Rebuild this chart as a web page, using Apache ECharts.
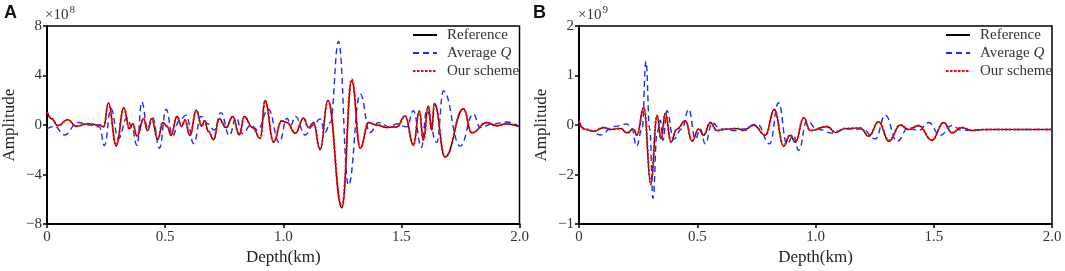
<!doctype html>
<html>
<head>
<meta charset="utf-8">
<title>Amplitude vs depth</title>
<script src="https://cdn.jsdelivr.net/npm/echarts@6/dist/echarts.min.js"></script>
<style>
html, body { margin: 0; padding: 0; background: #fff; }
#main { width: 1065px; height: 271px; }
</style>
</head>
<body>
<div id="main"></div>
<script>

// panel A, amplitude in units of 1e8
var depthRefA = [0, 0.02, 0.046, 0.088, 0.123, 0.173, 0.222, 0.240, 0.260, 0.293, 0.325, 0.349, 0.363, 0.381, 0.409, 0.426, 0.443, 0.469, 0.490, 0.508, 0.525, 0.550, 0.570, 0.584, 0.605, 0.632, 0.655, 0.666, 0.683, 0.705, 0.729, 0.758, 0.786, 0.814, 0.835, 0.870, 0.903, 0.923, 0.959, 0.993,
    1.016, 1.051, 1.086, 1.107, 1.128, 1.156, 1.189, 1.248, 1.290, 1.326, 1.361, 1.396, 1.438, 1.481, 1.516, 1.551, 1.576, 1.593, 1.614, 1.628, 1.640, 1.685, 1.763, 1.798, 1.861, 1.903, 1.945, 2.0];
var ampRefA = [1.1, 0.5, -0.05, 0.45, -0.1, 0.1, 0.0, -0.15, 1.8, -1.7, 1.4, -0.3, 0.1, -0.9, 0.53, -0.45, 0.53, -1.2, 0.2, -0.1, -0.85, 0.7, -0.1, 0.4, -0.85, 1.2, -0.1, 0.35, -0.5, -1.2, 0.5, -0.2, 0.7, -0.8, 0.7, -0.2, -1.1, 2.0, -1.4, 0.35,
    0.2, -0.67, 0.56, -0.2, 0.2, -2.0, 2.0, -6.7, 3.6, -1.9, 0.2, 0.0, -0.2, -0.15, 0.75, -1.65, 1.15, -1.25, 1.55, -0.4, 1.75, -2.6, 1.33, -0.64, 0.2, -0.05, 0.1, -0.13];

var depthAvgA = [0, 0.032, 0.074, 0.13, 0.187, 0.222, 0.243, 0.271, 0.302, 0.339, 0.359, 0.381, 0.401, 0.426, 0.447, 0.476, 0.504, 0.532, 0.560, 0.589, 0.621, 0.652, 0.680, 0.708, 0.736, 0.772, 0.800, 0.828, 0.863, 0.891, 0.937, 0.983,
    1.016, 1.032, 1.051, 1.093, 1.128, 1.156, 1.177, 1.199, 1.234, 1.276, 1.326, 1.367, 1.403, 1.452, 1.481, 1.523, 1.551, 1.585, 1.607, 1.650, 1.678, 1.749, 1.805, 1.833, 1.889, 1.945, 2.0];
var ampAvgA = [-0.3, -0.1, -0.8, 0.2, 0.0, -0.15, -1.65, 1.33, -1.1, 0.6, -0.2, -1.65, 1.87, -0.3, 0.6, -1.87, 1.28, -0.85, 0.35, 0.8, -1.5, 0.7, 0.1, -0.4, 1.0, -0.85, 0.6, -0.7, 0.0, -0.4, 1.28, -1.4,
    0.55, 0.0, 0.7, -0.8, 0.0, 0.5, -0.6, 0.2, 6.75, -4.85, 2.5, -0.6, 0.2, -0.15, 0.1, -0.15, 1.15, -1.8, 1.15, -1.4, 2.75, -1.7, 0.9, -0.2, 0.1, 0.25, -0.1];

var depthOursA = depthRefA;
var ampOursA = [1.05, 0.5, -0.05, 0.42, -0.1, 0.1, 0.0, -0.12, 1.75, -1.6, 1.35, -0.3, 0.1, -0.85, 0.5, -0.42, 0.5, -1.1, 0.2, -0.1, -0.8, 0.68, -0.1, 0.4, -0.8, 1.15, -0.1, 0.33, -0.5, -1.15, 0.5, -0.2, 0.66, -0.75, 0.66, -0.2, -1.05, 1.95, -1.35, 0.33,
    0.2, -0.65, 0.55, -0.2, 0.2, -1.95, 1.95, -6.55, 3.7, -1.85, 0.2, 0.0, -0.18, -0.15, 0.72, -1.6, 1.1, -1.2, 1.5, -0.4, 1.7, -2.55, 1.3, -0.62, 0.2, -0.05, 0.1, -0.13];

// panel B, amplitude in units of 1e9
var depthRefB = [0, 0.020, 0.062, 0.104, 0.133, 0.175, 0.203, 0.231, 0.245, 0.274, 0.304, 0.330, 0.347, 0.365, 0.389, 0.414, 0.450, 0.478, 0.506, 0.527, 0.555, 0.583, 0.626, 0.668, 0.696, 0.738, 0.788, 0.826, 0.865, 0.893, 0.915, 0.950, 0.978,
    1.049, 1.084, 1.126, 1.190, 1.225, 1.267, 1.310, 1.359, 1.394, 1.436, 1.492, 1.542, 1.577, 1.619, 1.662, 1.718, 1.830, 2.0];
var ampRefB = [0.09, -0.08, -0.13, -0.05, -0.09, -0.07, -0.16, -0.08, -0.21, 0.37, -1.21, 0.2, -0.28, 0.24, -0.35, -0.08, 0.09, -0.33, -0.08, -0.21, 0.05, -0.11, -0.08, -0.07, -0.11, 0.0, -0.21, 0.32, -0.43, -0.21, -0.35, 0.15, -0.11,
    -0.03, -0.15, -0.07, -0.06, -0.23, 0.07, -0.33, 0.0, -0.09, -0.01, -0.31, 0.05, -0.16, -0.05, -0.11, -0.09, -0.09, -0.09];

var depthAvgB = [0, 0.048, 0.090, 0.147, 0.203, 0.224, 0.243, 0.267, 0.283, 0.299, 0.313, 0.330, 0.344, 0.355, 0.372, 0.400, 0.435, 0.464, 0.492, 0.513, 0.534, 0.563, 0.598, 0.654, 0.696, 0.753, 0.806, 0.844, 0.879, 0.907, 0.929, 0.964, 1.006,
    1.070, 1.126, 1.197, 1.253, 1.295, 1.345, 1.394, 1.436, 1.478, 1.528, 1.577, 1.619, 1.662, 1.746, 1.859, 2.0];
var ampAvgB = [0.0, -0.11, -0.2, -0.03, 0.02, -0.08, -0.43, -0.08, 1.29, -0.08, -1.48, -0.15, 0.1, -0.31, 0.29, -0.28, -0.08, 0.32, -0.28, -0.08, -0.38, 0.05, -0.08, -0.11, -0.08, 0.02, -0.38, 0.45, -0.38, -0.21, -0.51, 0.09, -0.08,
    -0.16, -0.08, -0.08, -0.28, 0.2, -0.33, -0.05, -0.11, 0.05, -0.21, -0.01, -0.11, -0.1, -0.09, -0.09, -0.09];

var depthOursB = depthRefB;
var ampOursB = [0.08, -0.08, -0.12, -0.05, -0.09, -0.07, -0.15, -0.08, -0.2, 0.35, -1.15, 0.19, -0.27, 0.23, -0.33, -0.08, 0.08, -0.31, -0.08, -0.2, 0.05, -0.11, -0.08, -0.07, -0.11, 0.0, -0.2, 0.3, -0.41, -0.2, -0.33, 0.14, -0.11,
    -0.03, -0.14, -0.07, -0.06, -0.22, 0.06, -0.31, 0.0, -0.09, -0.01, -0.3, 0.05, -0.15, -0.05, -0.11, -0.09, -0.09, -0.09];

var seriesNames = ['Reference', 'Average Q', 'Our scheme'];
var xTickLabels = ['0', '0.5', '1.0', '1.5', '2.0'];
var yTickValuesA = [-8, -4, 0, 4, 8];
var yTickLabelsA = ['\u22128', '\u22124', '0', '4', '8'];
var yTickValuesB = [-2, -1, 0, 1, 2];
var yTickLabelsB = ['\u22121', '\u22122', '0', '1', '2'];

function pairs(xs, ys) {
    return xs.map(function (x, i) { return [x, ys[i]]; });
}

var serif = 'Liberation Serif';
var gridLeft = [46.5, 579];

function xAxis(idx) {
    return {
        type: 'value', gridIndex: idx, min: 0, max: 2, interval: 0.5,
        name: 'Depth(km)', nameLocation: 'middle', nameGap: 21,
        nameTextStyle: { fontFamily: serif, fontSize: 17, color: '#222' },
        axisLine: { onZero: false, lineStyle: { color: '#000', width: 2 } },
        axisTick: { length: 4, lineStyle: { color: '#000', width: 1.5 } },
        axisLabel: {
            fontFamily: serif, fontSize: 15, color: '#333', margin: 5,
            formatter: function (v) { return xTickLabels[Math.round(v / 0.5)]; }
        },
        splitLine: { show: false }
    };
}

function yAxis(idx, lim, step, vals, labels) {
    return {
        type: 'value', gridIndex: idx, min: -lim, max: lim, interval: step,
        name: 'Amplitude', nameLocation: 'middle', nameGap: 29,
        nameTextStyle: { fontFamily: serif, fontSize: 17, color: '#222' },
        axisLine: { onZero: false, lineStyle: { color: '#000', width: 2 } },
        axisTick: { length: 4, lineStyle: { color: '#000', width: 1.5 } },
        axisLabel: {
            fontFamily: serif, fontSize: 15, color: '#333', margin: 5,
            formatter: function (v) { return labels[vals.indexOf(v)]; }
        },
        splitLine: { show: false }
    };
}

function line(name, idx, data, color, width, type) {
    return {
        name: name, type: 'line', xAxisIndex: idx, yAxisIndex: idx,
        data: data, symbol: 'none', smooth: 0.45, smoothMonotone: 'x',
        color: color,
        lineStyle: { color: color, width: width, type: type },
        z: name === 'Our scheme' ? 4 : (name === 'Average Q' ? 3 : 2)
    };
}

function legend(left) {
    return {
        orient: 'vertical', left: left, top: 27, padding: 0, itemGap: 2,
        itemWidth: 24, itemHeight: 12,
        itemStyle: { opacity: 0 },
        data: seriesNames,
        formatter: function (n) { return n === 'Average Q' ? 'Average {i|Q}' : n; },
        textStyle: {
            fontFamily: serif, fontSize: 15, color: '#333', lineHeight: 16, padding: [0, 0, 0, 5],
            rich: { i: { fontFamily: serif, fontSize: 15, fontStyle: 'italic', color: '#333' } }
        }
    };
}

function exponent(left, power) {
    return {
        type: 'text', left: left, top: 5,
        style: {
            text: '\u00d710{s|' + power + '}',
            font: '15px ' + serif, fill: '#333',
            rich: { s: { fontSize: 11, fontFamily: serif, fill: '#333', verticalAlign: 'top', padding: [0, 0, 9, 1] } }
        }
    };
}

var chart = echarts.init(document.getElementById('main'));
chart.setOption({
    animation: false,
    backgroundColor: '#fff',
    grid: [
        { left: gridLeft[0], top: 26, width: 473, height: 200, show: true, borderColor: '#000', borderWidth: 1.5 },
        { left: gridLeft[1], top: 26, width: 473, height: 200, show: true, borderColor: '#000', borderWidth: 1.5 }
    ],
    xAxis: [xAxis(0), xAxis(1)],
    yAxis: [yAxis(0, 8, 4, yTickValuesA, yTickLabelsA), yAxis(1, 2, 1, yTickValuesB, yTickLabelsB)],
    legend: [legend(412), legend(945)],
    graphic: [
        { type: 'text', left: 4, top: 4, style: { text: 'A', font: 'bold 18px Liberation Sans', fill: '#111' } },
        { type: 'text', left: 533, top: 4, style: { text: 'B', font: 'bold 18px Liberation Sans', fill: '#111' } },
        exponent(45, 8),
        exponent(578, 9)
    ],
    series: [
        line(seriesNames[0], 0, pairs(depthRefA, ampRefA), '#000000', 1.2, 'solid'),
        line(seriesNames[1], 0, pairs(depthAvgA, ampAvgA), '#1a2bff', 1.4, [6, 4]),
        line(seriesNames[2], 0, pairs(depthOursA, ampOursA), '#ff0000', 2, [2.5, 1.5]),
        line(seriesNames[0], 1, pairs(depthRefB, ampRefB), '#000000', 1.2, 'solid'),
        line(seriesNames[1], 1, pairs(depthAvgB, ampAvgB), '#1a2bff', 1.4, [6, 4]),
        line(seriesNames[2], 1, pairs(depthOursB, ampOursB), '#ff0000', 2, [2.5, 1.5])
    ]
});
</script>
</body>
</html>
